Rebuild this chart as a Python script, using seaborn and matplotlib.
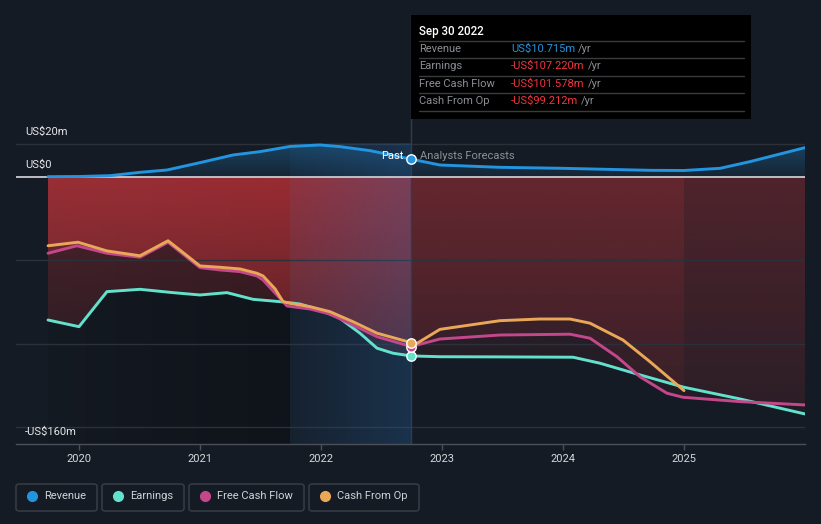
import numpy as np
import pandas as pd
import matplotlib
matplotlib.use("Agg")
import matplotlib.pyplot as plt
import seaborn as sns
from matplotlib.patches import PathPatch, Rectangle, FancyBboxPatch

# ---------------- data (US$ m, decimal years) ----------------
rev_past_x = [2019.744, 2020.0, 2020.256, 2020.504, 2020.727, 2021.0, 2021.273, 2021.496,
              2021.744, 2021.992, 2022.157, 2022.405, 2022.512, 2022.744]
rev_past = [0.2, 0.3, 0.8, 2.8, 4.2, 8.6, 13.2, 15.2, 18.3, 19.2, 18.2, 15.8, 14.2, 10.715]
rev_fc_x = [2022.744, 2022.983, 2023.479, 2024.0, 2024.719, 2025.0, 2025.298, 2025.545, 2026.0]
rev_fc = [10.715, 7.2, 5.8, 5.2, 4.0, 3.9, 5.2, 9.2, 17.6]

earn_past_x = [2019.744, 2020.0, 2020.231, 2020.504, 2020.777, 2021.0, 2021.223, 2021.438,
               2021.661, 2021.826, 2021.992, 2022.157, 2022.322, 2022.463, 2022.595, 2022.744]
earn_past = [-85.7, -89.7, -68.7, -67.3, -69.3, -70.7, -69.3, -73.3, -74.7, -76.1, -79.7,
             -84.7, -93.6, -102.6, -105.6, -107.22]
earn_fc_x = [2022.744, 2022.983, 2023.479, 2024.083, 2024.306, 2024.636, 2025.0, 2025.463, 2026.0]
earn_fc = [-107.22, -107.7, -107.8, -108.0, -111.6, -118.6, -126.0, -133.0, -142.0]

fcf_past_x = [2019.744, 2019.983, 2020.231, 2020.504, 2020.736, 2021.0, 2021.165, 2021.331,
              2021.471, 2021.521, 2021.620, 2021.719, 2021.909, 2022.074, 2022.264, 2022.463, 2022.744]
fcf_past = [-45.7, -41.2, -45.7, -48.1, -39.1, -54.3, -55.7, -56.7, -59.3, -61.7, -69.5,
            -77.3, -79.1, -82.1, -88.7, -95.7, -101.578]
fcf_fc_x = [2022.744, 2022.983, 2023.479, 2024.058, 2024.223, 2024.446, 2024.636, 2024.860,
            2024.992, 2025.463, 2026.0]
fcf_fc = [-101.578, -97.1, -94.7, -94.2, -96.6, -107.7, -119.7, -129.6, -132.0, -134.6, -136.6]

cfo_past_x = [2019.744, 2019.992, 2020.231, 2020.504, 2020.736, 2021.0, 2021.165, 2021.331,
              2021.471, 2021.521, 2021.620, 2021.686, 2021.744, 2021.909, 2022.074, 2022.264,
              2022.463, 2022.744]
cfo_past = [-41.2, -39.1, -44.3, -47.2, -38.2, -53.3, -54.1, -55.1, -57.7, -59.3, -67.0,
            -74.7, -75.7, -77.7, -80.7, -86.7, -93.6, -99.212]
cfo_fc_x = [2022.744, 2022.793, 2022.983, 2023.479, 2023.810, 2024.058, 2024.223, 2024.496,
            2024.719, 2025.0]
cfo_fc = [-99.212, -99.7, -91.3, -86.1, -85.1, -85.1, -87.6, -97.7, -110.7, -128.0]

year_ticks = [2020, 2021, 2022, 2023, 2024, 2025]
year_labels = ["2020", "2021", "2022", "2023", "2024", "2025"]
y_labels = ["US$20m", "US$0", "-US$160m"]
legend_names = ["Revenue", "Earnings", "Free Cash Flow", "Cash From Op"]
tooltip_date = "Sep 30 2022"
tooltip_rows = [("Revenue", "US$10.715m"), ("Earnings", "-US$107.220m"),
                ("Free Cash Flow", "-US$101.578m"), ("Cash From Op", "-US$99.212m")]

# ---------------- style ----------------
BG = "#151b24"
REV = "#2394df"
EARN = "#62e2cd"
FCF = "#c4478b"
CFO = "#e9a857"
RED = (220 / 255, 58 / 255, 64 / 255)

sns.set_style("dark")
plt.rcParams["font.family"] = ["Roboto", "DejaVu Sans"]

W, H = 821, 524
fig = plt.figure(figsize=(W / 100, H / 100), dpi=100, facecolor=BG)
ax = fig.add_axes([16 / W, (H - 444) / H, 789 / W, 444 / H])
ax.set_facecolor(BG)
XMIN, XMAX = 2019.4793, 2026.0
YMIN, YMAX = -160, 106.07
NOW = 2022.744


def px(x, y):
    return x / W, 1 - y / H


def vgrad(x0, x1, ytop, ybot, rgb, a_top, a_bot, clip=None, z=1):
    img = np.zeros((256, 1, 4))
    img[:, :, :3] = rgb
    img[:, 0, 3] = np.linspace(a_top, a_bot, 256)
    im = ax.imshow(img, extent=[x0, x1, ybot, ytop], origin="upper",
                   aspect="auto", zorder=z, interpolation="bilinear")
    if clip is not None:
        im.set_clip_path(clip)
    return im


def hgrad(x0, x1, ytop, ybot, rgb, a_l, a_r, z=1):
    img = np.zeros((1, 256, 4))
    img[:, :, :3] = rgb
    img[0, :, 3] = np.linspace(a_l, a_r, 256)
    ax.imshow(img, extent=[x0, x1, ybot, ytop], origin="upper",
              aspect="auto", zorder=z, interpolation="bilinear")


def area_clip(xs, ys):
    coll = ax.fill_between(xs, 0, ys, facecolor="none", edgecolor="none")
    path = coll.get_paths()[0]
    patch = PathPatch(path, facecolor="none", edgecolor="none", transform=ax.transData)
    ax.add_patch(patch)
    coll.remove()
    return patch


# darker past zone
hgrad(2019.744, 2021.744, 0, -160, (0, 0, 0), 0.05, 0.28, z=0.5)

# red area fills
for (xp, yp, xf, yf) in [(earn_past_x, earn_past, earn_fc_x, earn_fc),
                         (fcf_past_x, fcf_past, fcf_fc_x, fcf_fc),
                         (cfo_past_x, cfo_past, cfo_fc_x, cfo_fc)]:
    c = area_clip(np.array(xp), np.array(yp))
    vgrad(min(xp), max(xp), 0, -160, RED, 0.31, 0.04, clip=c, z=1)
    c = area_clip(np.array(xf), np.array(yf))
    vgrad(min(xf), max(xf), 0, -160, RED, 0.16, 0.045, clip=c, z=1)

# revenue fill
rx = np.array(rev_past_x + rev_fc_x[1:])
ry = np.array(rev_past + rev_fc[1:])
c = area_clip(rx, ry)
vgrad(rx.min(), rx.max(), 20, 0, (35 / 255, 148 / 255, 223 / 255), 0.34, 0.08, clip=c, z=1)

# last-year highlight band
hgrad(2021.744, NOW, 20, -160, (40 / 255, 110 / 255, 180 / 255), 0.08, 0.28, z=2)

# gridlines
for v in [20, -50, -100, -150]:
    ax.axhline(v, color="#2b3039", lw=1, zorder=1.5)
ax.axhline(0, color="#c9cbcf", lw=1.3, zorder=3)
ax.axvline(NOW, ymin=0, ymax=(444 - 15) / 444, color="#2c3d52", lw=1, zorder=2.5)

# lines
series = [(rev_past_x, rev_past, rev_fc_x, rev_fc, REV),
          (earn_past_x, earn_past, earn_fc_x, earn_fc, EARN),
          (fcf_past_x, fcf_past, fcf_fc_x, fcf_fc, FCF),
          (cfo_past_x, cfo_past, cfo_fc_x, cfo_fc, CFO)]
for xp, yp, xf, yf, col in series:
    df = pd.DataFrame({"x": xp + xf[1:], "y": yp + yf[1:]})
    sns.lineplot(data=df, x="x", y="y", ax=ax, color=col, linewidth=2.1,
                 estimator=None, sort=False, zorder=5)
for ln in ax.get_lines():
    ln.set_solid_joinstyle("round")
    ln.set_solid_capstyle("round")

# markers at last reported point
for val, col in [(rev_past[-1], REV), (earn_past[-1], EARN),
                 (fcf_past[-1], FCF), (cfo_past[-1], CFO)]:
    ax.scatter([NOW], [val], s=46, color=col, edgecolor="white", linewidth=1, zorder=6)

ax.set_xlim(XMIN, XMAX)
ax.set_ylim(YMIN, YMAX)
ax.set_xlabel("")
ax.set_ylabel("")
ax.grid(False)
for s in ["top", "right", "left"]:
    ax.spines[s].set_visible(False)
ax.spines["bottom"].set_color("#4b5058")
ax.spines["bottom"].set_linewidth(1)
ax.set_yticks([])
ax.set_xticks(year_ticks)
ax.set_xticklabels(year_labels)
ax.tick_params(axis="x", length=4, width=1, color="#4b5058", labelcolor="#d6d8db",
               labelsize=8, pad=3, bottom=True)
if ax.get_legend():
    ax.get_legend().remove()

# y labels
for lab, yy in zip(y_labels, [132, 165, 432]):
    fig.text(*px(25, yy), lab, color="#e6e7e9", fontsize=8, va="center", ha="left")

# past / forecast labels
fig.text(*px(403, 156), "Past", color="#ffffff", fontsize=8, va="center", ha="right")
fig.text(*px(420, 156), "Analysts Forecasts", color="#8c9096", fontsize=8, va="center", ha="left")

# tooltip
tx0, ty0, tx1, ty1 = 411, 15, 751, 119
fig.patches.append(Rectangle(px(tx0, ty1), (tx1 - tx0) / W, (ty1 - ty0) / H,
                             transform=fig.transFigure, facecolor="#000000",
                             edgecolor="none", zorder=10))
fig.text(*px(419, 31), tooltip_date, color="#ffffff", fontsize=8.3, va="center",
         ha="left", zorder=11, fontweight="medium")
for yy in [41, 58, 76, 93, 111]:
    fig.add_artist(plt.Line2D([419 / W, 744 / W], [1 - yy / H, 1 - yy / H],
                              transform=fig.transFigure, color="#3a3b3d", lw=1, zorder=11))
row_y = [49, 66, 84, 101]
val_cols = [REV, "#f2353d", "#f2353d", "#f2353d"]
for (lab, val), yy, vc in zip(tooltip_rows, row_y, val_cols):
    fig.text(*px(419, yy), lab, color="#8a8e94", fontsize=8, va="center", ha="left", zorder=11)
    t = fig.text(*px(511, yy), val, color=vc, fontsize=8, va="center", ha="left", zorder=11)
    fig.canvas.draw()
    bb = t.get_window_extent()
    fig.text(bb.x1 / W + 3 / W, 1 - yy / H, "/yr", color="#8a8e94", fontsize=8,
             va="center", ha="left", zorder=11)

# legend
boxes = [(16, 97), (102, 184), (189, 304), (309, 419)]
cols = [REV, EARN, FCF, CFO]
for (bx0, bx1), name, col in zip(boxes, legend_names, cols):
    fig.patches.append(FancyBboxPatch(px(bx0, 511), (bx1 - bx0) / W, 27 / H,
                                      boxstyle="round,pad=0,rounding_size=0.004",
                                      transform=fig.transFigure, facecolor="none",
                                      edgecolor="#3b4048", lw=1, zorder=10))
    fig.add_artist(plt.Line2D([(bx0 + 16) / W], [1 - 496 / H], marker="o", markersize=7,
                              color=col, transform=fig.transFigure, zorder=11, lw=0))
    fig.text(*px(bx0 + 28, 496), name, color="#d0d3d6", fontsize=8, va="center",
             ha="left", zorder=11)

fig.savefig("out.png", dpi=100, facecolor=BG)
